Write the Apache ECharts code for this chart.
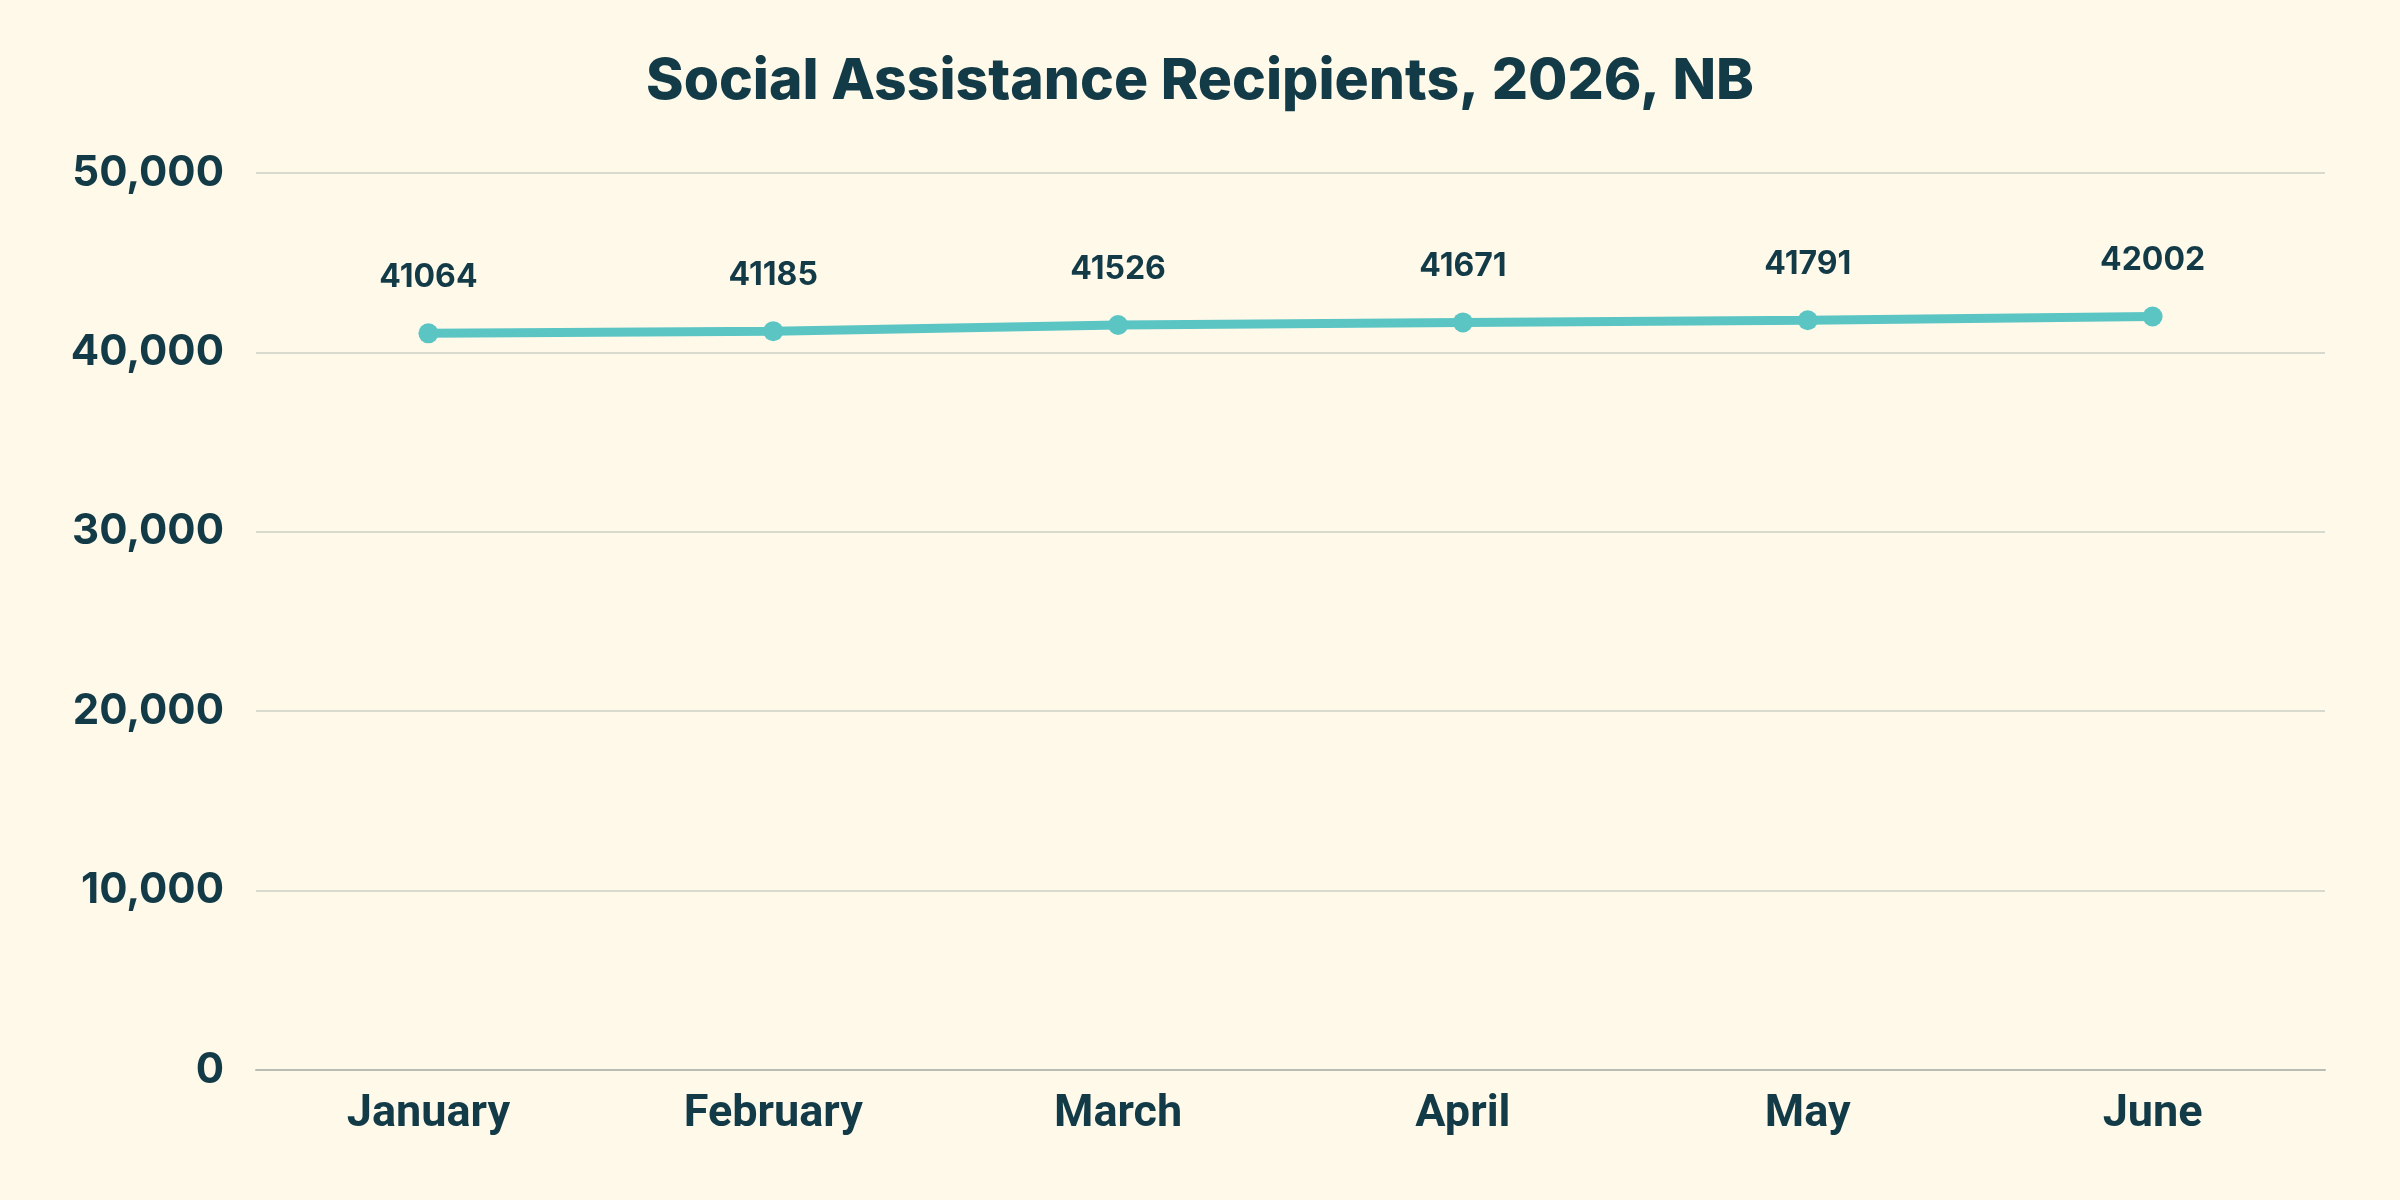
<!DOCTYPE html>
<html>
<head>
<meta charset="utf-8">
<script src="https://cdn.jsdelivr.net/npm/echarts@6/dist/echarts.min.js"></script>
<style>
html,body{margin:0;padding:0;background:#FFF9EA;}
#c{width:2400px;height:1200px;}
</style>
</head>
<body>
<div id="c"></div>
<script>
const categories = ['January','February','March','April','May','June'];
const recipients = [41064, 41185, 41526, 41671, 41791, 42002];
const titleText = 'Social Assistance Recipients, 2026, NB';

const chart = echarts.init(document.getElementById('c'));
chart.setOption({
  backgroundColor: '#FFF9EA',
  animation: false,
  title: {
    text: titleText,
    left: 'center',
    top: 48,
    textStyle: {fontFamily: 'Inter', fontWeight: 800, fontSize: 57, color: '#133B47'}
  },
  grid: {left: 256, right: 75, top: 173, bottom: 130},
  xAxis: {
    type: 'category',
    data: categories,
    boundaryGap: true,
    axisLine: {show: true, lineStyle: {color: '#B9BDB4', width: 2}},
    axisTick: {show: false},
    axisLabel: {margin: 22, fontFamily: 'Roboto', fontWeight: 'bold', fontSize: 45, color: '#133B47'}
  },
  yAxis: {
    type: 'value',
    min: 0, max: 50000, interval: 10000,
    axisLine: {show: false},
    axisTick: {show: false},
    splitLine: {lineStyle: {color: '#D9DACE', width: 2}},
    axisLabel: {
      margin: 32,
      fontFamily: 'Inter', fontWeight: 700, fontSize: 42, color: '#133B47',
      formatter: v => v.toLocaleString('en-US')
    }
  },
  series: [{
    type: 'line',
    data: recipients,
    symbol: 'circle',
    symbolSize: 20,
    lineStyle: {color: '#5BC5C4', width: 9},
    itemStyle: {color: '#5BC5C4'},
    label: {
      show: true, position: 'top', distance: 30,
      fontFamily: 'Inter', fontWeight: 700, fontSize: 32, color: '#133B47'
    }
  }]
});
</script>
</body>
</html>
